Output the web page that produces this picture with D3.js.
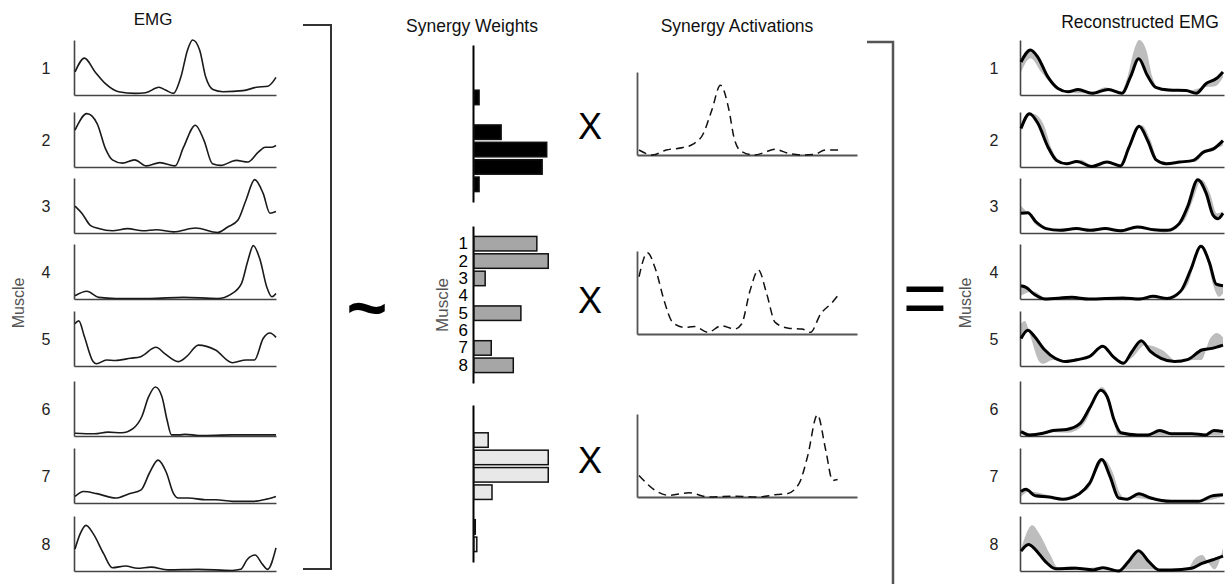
<!DOCTYPE html>
<html>
<head>
<meta charset="utf-8">
<script src="https://cdn.jsdelivr.net/npm/d3@7"></script>
<style>
  body { margin: 0; background: #fff; }
  svg { display: block; font-family: "Liberation Sans", Arial, sans-serif; }
</style>
</head>
<body>
<div id="chart"></div>
<script>
const muscles = [1, 2, 3, 4, 5, 6, 7, 8];

// EMG envelopes, [time % of cycle, normalized amplitude]
const emg1 = [[0,0.42],[4.7,0.67],[10,0.42],[15,0.21],[21.7,0.06],[30,0.03],[35,0.04],[41.8,0.14],[45,0.09],[49,0.03],[52.7,0.33],[56,0.82],[58.5,1.0],[62,0.82],[65,0.33],[68.6,0.10],[73.6,0.06],[83.6,0.08],[90.3,0.14],[96,0.16],[100,0.32]];
const emg2 = [[0,0.67],[5.9,0.97],[11,0.79],[15.2,0.33],[18.6,0.13],[23.6,0.07],[29.6,0.13],[35.5,0.02],[42.2,0.08],[49.8,0.02],[54,0.36],[59.9,0.76],[64.2,0.48],[68.4,0.06],[72.6,0.03],[80.2,0.12],[86,0.09],[91.2,0.27],[94.6,0.36],[98,0.36],[100,0.39]];
const emg3 = [[0,0.49],[3.4,0.36],[7.6,0.14],[11.8,0.08],[18.6,0.04],[26.2,0.08],[33.8,0.04],[40.5,0.06],[49,0.02],[60,0.09],[71,0.01],[76,0.11],[81,0.23],[85.1,0.6],[89.4,0.97],[93.6,0.72],[97,0.36],[100,0.39]];
const emg4 = [[0,0.06],[5.9,0.14],[11.8,0.03],[20.3,0.01],[37.2,0.01],[54,0.03],[71,0.01],[77.7,0.09],[82.8,0.28],[86.1,0.71],[88.7,0.97],[92.1,0.71],[95.4,0.22],[98,0.04],[100,0.1]];
const emg5 = [[0,0.77],[1.9,0.82],[4.7,0.53],[9,0.08],[10.7,0.04],[15.7,0.11],[20,0.1],[27.6,0.14],[32.7,0.17],[40.3,0.34],[44.5,0.23],[51.3,0.08],[55.5,0.17],[61.4,0.38],[69.9,0.29],[78.3,0.06],[85.1,0.11],[89.3,0.11],[93.6,0.5],[97,0.6],[100,0.52]];
const emg6 = [[0,0.05],[9.7,0.04],[16.4,0.07],[23.2,0.06],[29,0.14],[33.2,0.35],[36.6,0.71],[40,0.89],[43.3,0.71],[45.8,0.29],[48,0.02],[51.7,0.02],[55,0.03],[61.7,0.01],[78.5,0.02],[100,0.02]];
const emg7 = [[0,0.12],[4.2,0.21],[10.9,0.17],[20.2,0.09],[27,0.17],[32.9,0.24],[37.1,0.55],[41.3,0.78],[45.5,0.55],[48.9,0.18],[51.4,0.09],[56.5,0.09],[64.9,0.06],[70,0.06],[78.4,0.03],[88.5,0.03],[95.3,0.07],[100,0.12]];
const emg8 = [[0,0.4],[2.5,0.67],[5.5,0.83],[9.2,0.67],[14.3,0.31],[18.5,0.06],[25.2,0.09],[31.1,0.05],[37.8,0.07],[46.2,0.02],[61.3,0.03],[78.2,0.01],[82.4,0.03],[85.7,0.21],[89.6,0.29],[93.3,0.12],[95.8,0.03],[100,0.42]];

// reconstructed EMG
const rec1 = [[0,0.6],[4.7,0.82],[8.3,0.69],[13.3,0.33],[18.3,0.12],[23.3,0.06],[28.3,0.1],[35,0.03],[43.3,0.1],[50,0.03],[54.2,0.33],[58.3,0.66],[62.5,0.36],[66.7,0.14],[73.3,0.09],[81.7,0.08],[86.7,0.03],[91.7,0.21],[96.7,0.3],[100,0.42]];
const rec2 = [[0,0.7],[4.2,0.97],[8.4,0.79],[13.4,0.36],[17.6,0.12],[22.6,0.06],[27.6,0.1],[35.1,0.01],[42.6,0.09],[49.2,0.02],[53.5,0.36],[58.5,0.74],[62.7,0.48],[66.9,0.13],[71.9,0.06],[78.6,0.09],[85.3,0.12],[90.3,0.27],[95.3,0.33],[100,0.48]];
const rec3 = [[0,0.36],[3.3,0.37],[7.5,0.2],[12.5,0.08],[19.2,0.05],[27.5,0.08],[34.2,0.05],[41.7,0.08],[49.2,0.04],[57.5,0.11],[65.8,0.06],[72.5,0.05],[78.3,0.17],[82.5,0.48],[87.5,0.97],[91.7,0.72],[95,0.33],[97.5,0.26],[100,0.36]];
const rec4 = [[0,0.24],[2.5,0.21],[6.7,0.08],[11.8,0],[25.2,0.03],[33.6,0],[50.4,0.02],[58.8,0],[65.5,0.05],[72.3,0.01],[79,0.14],[84,0.53],[89.1,0.96],[93.3,0.66],[96.6,0.27],[100,0.24]];
const rec5 = [[0,0.5],[3.4,0.65],[6.8,0.53],[11.8,0.29],[16.9,0.14],[22,0.08],[28.7,0.12],[33.8,0.17],[40.5,0.36],[45.6,0.17],[50.7,0.05],[54.9,0.26],[59.5,0.46],[64.2,0.26],[69.3,0.14],[76,0.08],[82.8,0.12],[89.5,0.29],[94.6,0.32],[100,0.38]];
const rec6 = [[0,0.08],[4.2,0.02],[10.9,0.05],[15.9,0.1],[22.6,0.12],[29.3,0.23],[34.3,0.53],[39.4,0.83],[42.7,0.71],[46.1,0.29],[49.4,0.06],[57.8,0.02],[62.8,0.02],[68.7,0.1],[74.5,0.04],[84.6,0.04],[91.3,0.02],[95.5,0.1],[100,0.08]];
const rec7 = [[0,0.21],[2.4,0.25],[7.1,0.13],[13.8,0.11],[20.5,0.07],[28.9,0.17],[34,0.36],[39.9,0.79],[44.1,0.48],[48.3,0.09],[52.5,0.07],[58.4,0.17],[64.3,0.09],[74.4,0.03],[87.9,0.03],[94.6,0.13],[100,0.15]];
const rec8 = [[0,0.36],[3.7,0.48],[7.1,0.39],[12.1,0.17],[17.2,0.04],[27.3,0.05],[35.7,0.02],[40.7,0.06],[48.3,0],[53.2,0.17],[58.2,0.37],[63.3,0.17],[68.4,0.02],[74.4,0.02],[84.5,0.05],[89.6,0.14],[94.6,0.2],[100,0.27]];

// synergy activations
const act1 = [[0,0.06],[6.8,0],[13.6,0.06],[22,0.09],[27,0.13],[32,0.25],[36.4,0.54],[40.7,0.84],[45,0.54],[47.5,0.21],[50.8,0.05],[57.6,0],[62.7,0.03],[67.8,0.07],[74.6,0.02],[81.4,0],[88,0.01],[93.2,0.06],[100,0.06]];
const act2 = [[0,0.69],[4.2,0.98],[8.4,0.77],[12.6,0.4],[16.8,0.14],[22.7,0.08],[27.7,0.09],[34.5,0.02],[41.2,0.1],[47.9,0.06],[51.3,0.12],[55.5,0.52],[59.7,0.77],[63.9,0.48],[68.1,0.14],[74.8,0.07],[81.5,0.06],[85.7,0.02],[90.8,0.24],[96.6,0.38],[100,0.48]];
const act3 = [[0,0.26],[8.1,0.08],[14.8,0.02],[25,0.05],[35,0],[48.6,0.01],[58.7,0],[69,0.03],[74,0.04],[80,0.16],[84.2,0.48],[89.2,0.99],[93.4,0.56],[96.8,0.2],[99.3,0.21]];

// synergy weights per muscle 1..8
const weights1 = [0, 0, 0.08, 0, 0.37, 0.97, 0.91, 0.08];
const weights2 = [0.84, 0.99, 0.16, 0, 0.63, 0, 0.24, 0.53];
const weights3 = [0, 0.2, 0.99, 0.99, 0.25, 0, 0.03, 0.05];

const emgData = [emg1, emg2, emg3, emg4, emg5, emg6, emg7, emg8];
const recData = [rec1, rec2, rec3, rec4, rec5, rec6, rec7, rec8];
const actData = [act1, act2, act3];
const weightData = [weights1, weights2, weights3];

const width = 1225, height = 584;
const svg = d3.select('#chart').append('svg')
    .attr('width', width)
    .attr('height', height);

const panelTops = [40, 112, 178, 244, 311, 381, 448, 516];
const panelH = 55;

function styleAxis(g, color, w) {
    g.select('.domain').attr('stroke', color).attr('stroke-width', w);
    g.selectAll('.tick line').remove();
}

// small panel with two bare axes
function drawFrame(x, y, color, w) {
    const gy = svg.append('g')
        .attr('transform', 'translate(' + x.range()[0] + ',0)')
        .call(d3.axisLeft(y).tickValues([]).tickSizeOuter(0));
    styleAxis(gy, color, w);
    const gx = svg.append('g')
        .attr('transform', 'translate(0,' + y.range()[0] + ')')
        .call(d3.axisBottom(x).tickValues([]).tickSizeOuter(0));
    styleAxis(gx, color, w);
}

// ---- EMG column ----
const xEmg = d3.scaleLinear().domain([-0.5, 100]).range([74, 276]);
emgData.forEach((series, i) => {
    const y = d3.scaleLinear().domain([0, 1]).range([panelTops[i] + panelH, panelTops[i]]);
    drawFrame(xEmg, y, '#444', 1.6);
    const line = d3.line().x(d => xEmg(d[0])).y(d => y(d[1])).curve(d3.curveMonotoneX);
    svg.append('path')
        .attr('d', line(series))
        .attr('fill', 'none')
        .attr('stroke', '#1a1a1a')
        .attr('stroke-width', 1.6);
    svg.append('text')
        .attr('x', 46).attr('y', panelTops[i] + panelH / 2 + 6)
        .attr('text-anchor', 'middle')
        .attr('font-size', 16).attr('fill', '#222')
        .text(muscles[i]);
});

svg.append('text').attr('x', 153).attr('y', 25)
    .attr('text-anchor', 'middle').attr('font-size', 17).attr('fill', '#111')
    .text('EMG');
svg.append('text')
    .attr('transform', 'translate(24,303) rotate(-90)')
    .attr('text-anchor', 'middle').attr('font-size', 16).attr('fill', '#555')
    .text('Muscle');

// brackets and operators
svg.append('path').attr('d', 'M303,25H331V569H303')
    .attr('fill', 'none').attr('stroke', '#333').attr('stroke-width', 2);
svg.append('path').attr('d', 'M867,42H893V584')
    .attr('fill', 'none').attr('stroke', '#555').attr('stroke-width', 2.5);
svg.append('text').attr('x', 367).attr('y', 332)
    .attr('text-anchor', 'middle').attr('font-size', 70).attr('font-weight', 'bold')
    .text('~');
svg.append('text').attr('x', 925).attr('y', 324)
    .attr('text-anchor', 'middle').attr('font-size', 76)
    .text('=');

// ---- synergy weights ----
const weightTops = [45, 226, 405];
const weightFill = ['#000', '#a6a6a6', '#e8e8e8'];
const xW = d3.scaleLinear().domain([0, 1]).range([473, 549]);
weightData.forEach((w, k) => {
    const top = weightTops[k];
    const yB = d3.scaleBand().domain(muscles).range([top, top + 157])
        .paddingInner(0.165).paddingOuter(0.6);
    const ax = d3.axisLeft(yB).tickSize(0).tickPadding(5).tickSizeOuter(0);
    if (k !== 1) ax.tickValues([]);
    const g = svg.append('g')
        .attr('transform', 'translate(' + xW(0) + ',0)')
        .call(ax);
    g.select('.domain').attr('stroke', '#000').attr('stroke-width', 2);
    g.selectAll('.tick text')
        .attr('font-size', 17).attr('fill', '#000')
        .attr('font-family', '"Liberation Sans", Arial, sans-serif');

    svg.selectAll(null)
        .data(w.map((v, j) => ({ m: muscles[j], v })).filter(d => d.v > 0))
        .enter().append('rect')
        .attr('x', xW(0) + 1)
        .attr('y', d => yB(d.m))
        .attr('width', d => xW(d.v) - xW(0) - 1)
        .attr('height', yB.bandwidth())
        .attr('fill', weightFill[k])
        .attr('stroke', '#111')
        .attr('stroke-width', 1.5);

    svg.append('text').attr('x', 590).attr('y', [139, 313, 473][k])
        .attr('text-anchor', 'middle').attr('font-size', 36)
        .text('X');
});
svg.append('text')
    .attr('transform', 'translate(448,305) rotate(-90)')
    .attr('text-anchor', 'middle').attr('font-size', 17).attr('fill', '#555')
    .text('Muscle');
svg.append('text').attr('x', 472).attr('y', 32)
    .attr('text-anchor', 'middle').attr('font-size', 17.5).attr('fill', '#111')
    .text('Synergy Weights');

// ---- synergy activations ----
const actTops = [72, 251, 414];
const actH = 83;
const xA = d3.scaleLinear().domain([0, 110]).range([637, 857]);
actData.forEach((series, k) => {
    const y = d3.scaleLinear().domain([0, 1]).range([actTops[k] + actH, actTops[k]]);
    drawFrame(xA, y, '#555', 1.8);
    const line = d3.line().x(d => xA(d[0]) + 2).y(d => y(d[1])).curve(d3.curveMonotoneX);
    svg.append('path')
        .attr('d', line(series))
        .attr('fill', 'none')
        .attr('stroke', '#111')
        .attr('stroke-width', 1.5)
        .attr('stroke-dasharray', '8,5');
});
svg.append('text').attr('x', 737).attr('y', 32)
    .attr('text-anchor', 'middle').attr('font-size', 17.5).attr('fill', '#111')
    .text('Synergy Activations');

// ---- reconstructed EMG ----
const xRec = d3.scaleLinear().domain([-0.5, 100.5]).range([1020, 1224]);
recData.forEach((series, i) => {
    const y = d3.scaleLinear().domain([0, 1]).range([panelTops[i] + panelH, panelTops[i]]);
    const line = d3.line().x(d => xRec(d[0])).y(d => y(d[1])).curve(d3.curveMonotoneX);
    // grey band between measured and reconstructed envelope
    const fwd = line(emgData[i]);
    const back = line(series.slice().reverse());
    svg.append('path')
        .attr('d', fwd + 'L' + back.slice(1) + 'Z')
        .attr('fill', '#bdbdbd')
        .attr('stroke', 'none');
    drawFrame(xRec, y, '#444', 1.6);
    svg.append('path')
        .attr('d', line(series))
        .attr('fill', 'none')
        .attr('stroke', '#000')
        .attr('stroke-width', 3);
    svg.append('text')
        .attr('x', 994).attr('y', panelTops[i] + panelH / 2 + 6)
        .attr('text-anchor', 'middle')
        .attr('font-size', 16).attr('fill', '#222')
        .text(muscles[i]);
});
svg.append('text').attr('x', 1140).attr('y', 28)
    .attr('text-anchor', 'middle').attr('font-size', 17.5).attr('fill', '#111')
    .text('Reconstructed EMG');
svg.append('text')
    .attr('transform', 'translate(971,303) rotate(-90)')
    .attr('text-anchor', 'middle').attr('font-size', 16).attr('fill', '#555')
    .text('Muscle');
</script>
</body>
</html>
